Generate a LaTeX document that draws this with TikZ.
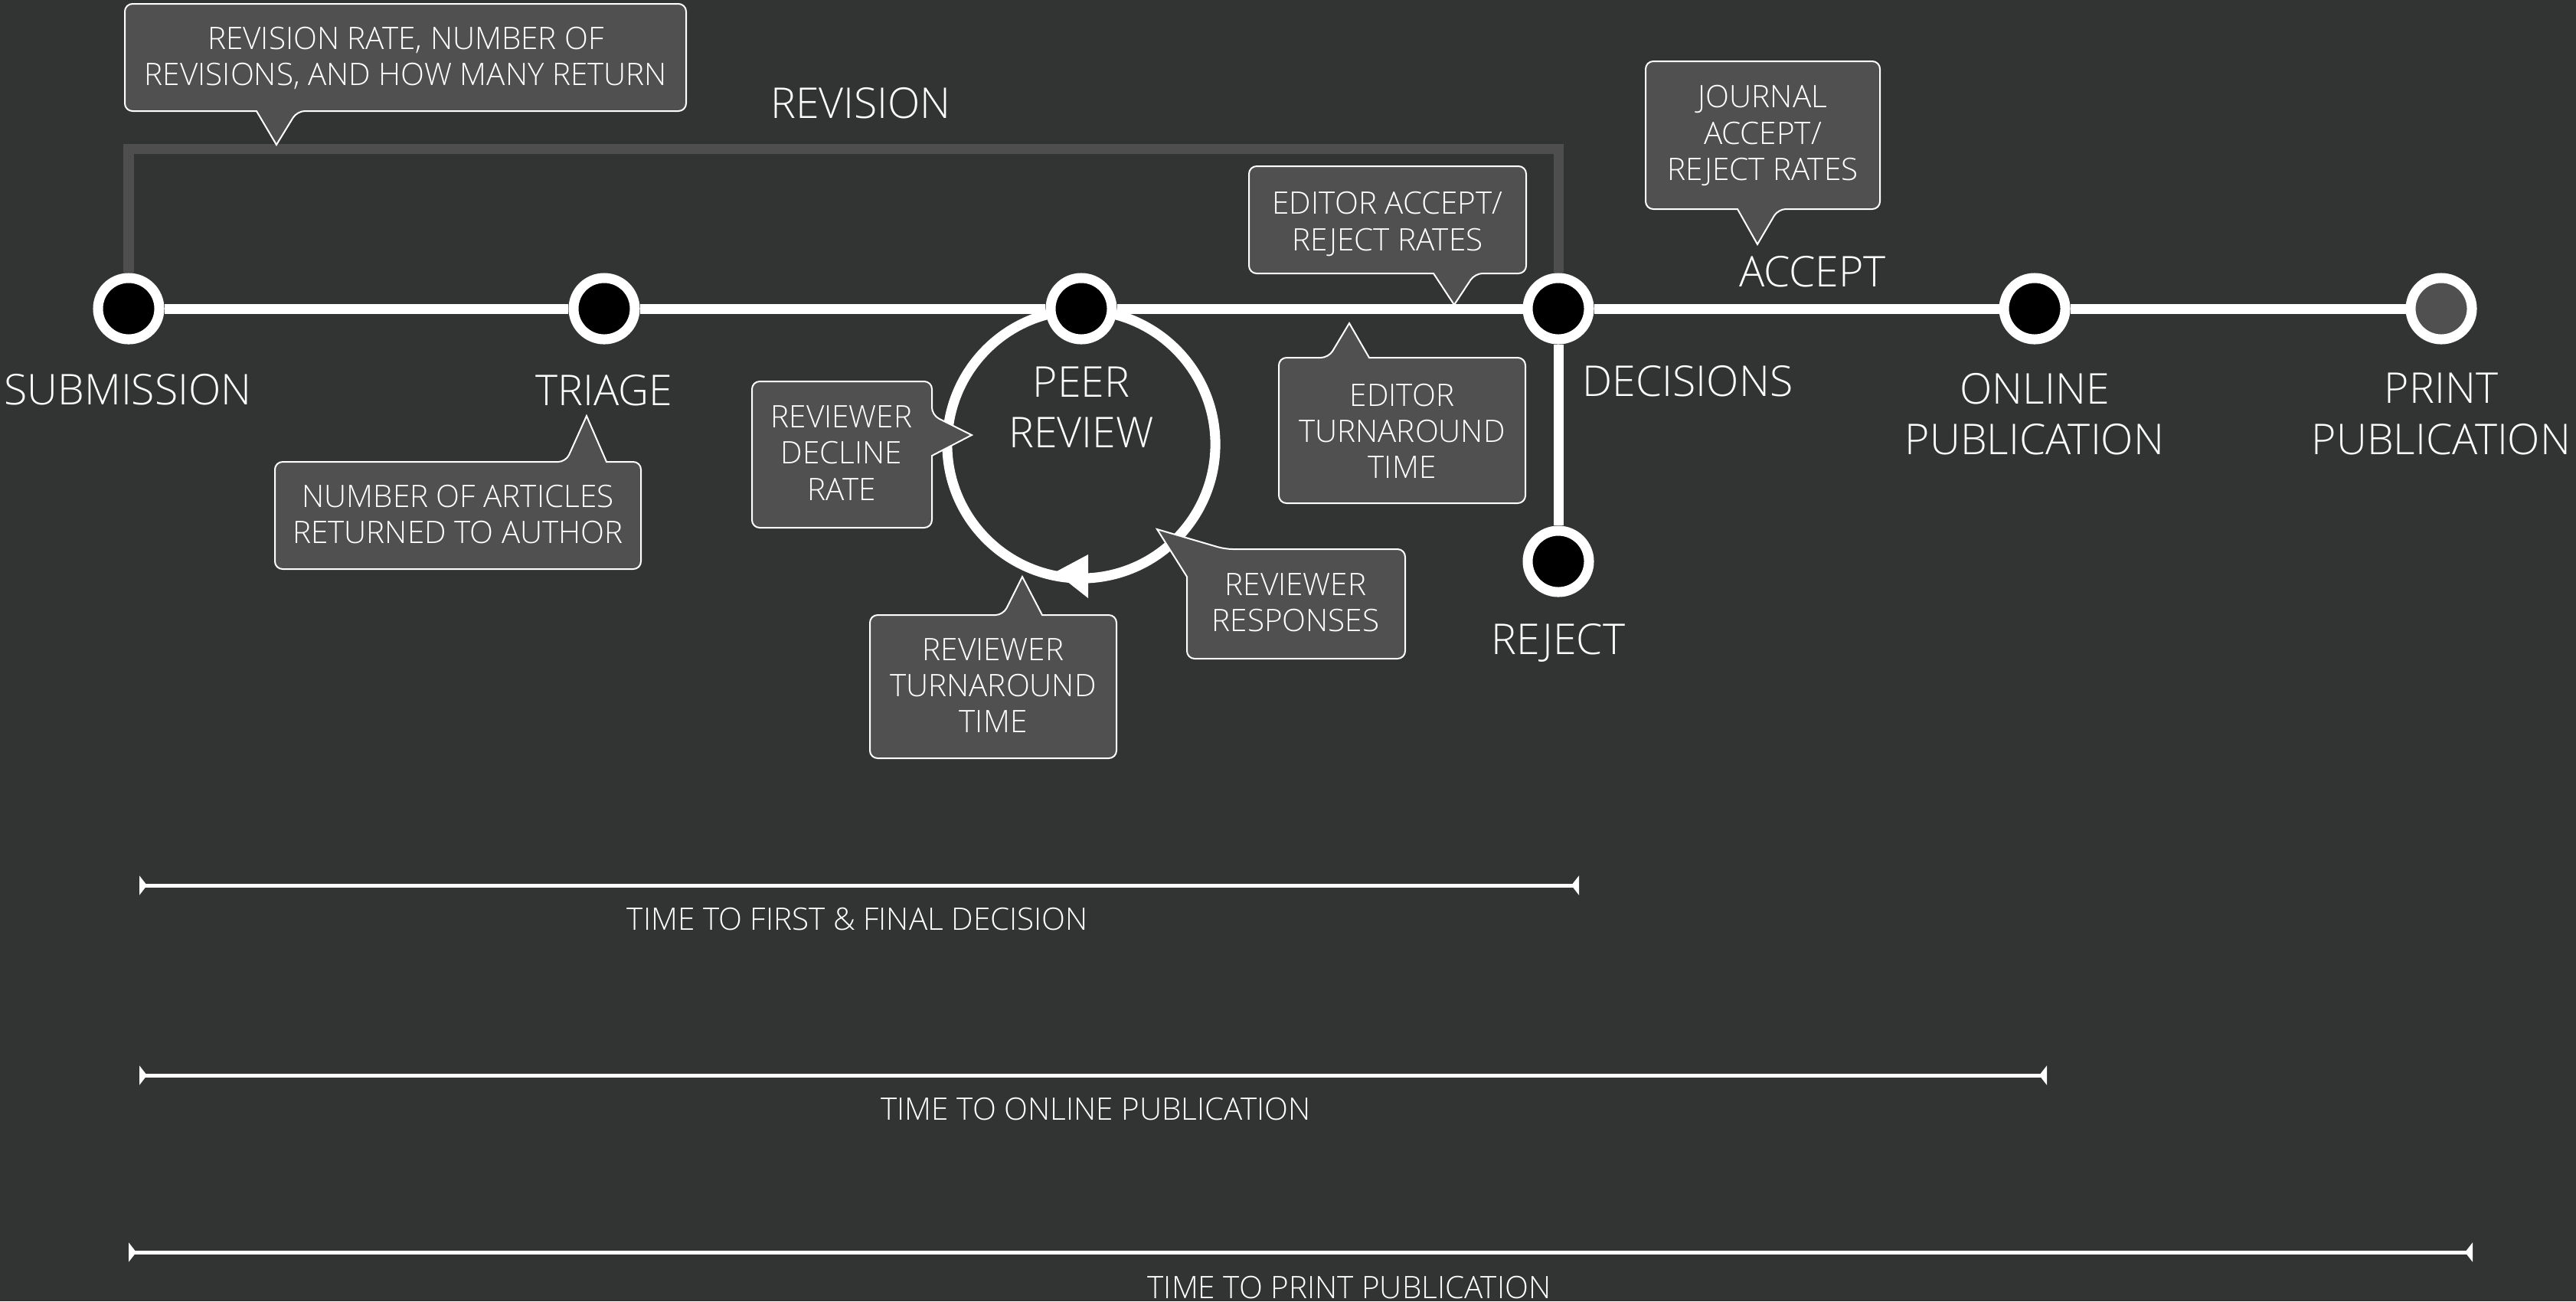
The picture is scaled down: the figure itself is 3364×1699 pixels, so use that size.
\documentclass[tikz,border=0pt]{standalone}
\usepackage{fontspec}
\setmainfont{Open Sans Light}
\usetikzlibrary{arrows.meta}
\definecolor{bgc}{HTML}{323433}
\definecolor{boxc}{HTML}{505050}
\definecolor{brc}{HTML}{4E4E4E}
\tikzset{bartip/.tip={Triangle[reversed,length=0.1cm,width=0.25cm]}}
\begin{document}
\begin{tikzpicture}[x=0.01cm,y=-0.01cm,
  stagenode/.style={circle,draw=white,fill=black,line width=0.13cm,minimum size=0.8cm,inner sep=0pt},
  mainline/.style={draw=white,line width=0.13cm},
  bracketline/.style={draw=brc,line width=0.13cm},
  callout/.style={draw=white,fill=boxc,line width=0.02cm},
  ctext/.style={text=white,align=center,inner sep=0pt,font=\fontsize{11.5pt}{13.4pt}\selectfont},
  mlabel/.style={text=white,align=center,inner sep=0pt,font=\fontsize{15.75pt}{18.8pt}\selectfont},
  barline/.style={draw=white,line width=0.05cm,bartip-bartip},
]
\fill[bgc] (0,0) rectangle (3364,1699);
\useasboundingbox (0,0) rectangle (3364,1699);

% peer review loop
\draw[white,line width=0.13cm] (1412,580) circle[radius=1.75cm];
\fill[white] (1421,724) -- (1421,781) -- (1378,747) -- cycle;

% stage nodes
\node[stagenode] (sub) at (168,403) {};
\node[stagenode] (tri) at (789,403) {};
\node[stagenode] (peer) at (1412,403) {};
\node[stagenode] (dec) at (2035,403) {};
\node[stagenode] (onl) at (2657,403) {};
\node[stagenode,fill=boxc] (prt) at (3188,403) {};
\node[stagenode] (rej) at (2035,733) {};

% revision bracket
\coordinate (revtop) at (1100,194.5);
\draw[bracketline] (sub) |- (revtop) -| (dec);

% main timeline
\draw[mainline] (sub) -- (tri);
\draw[mainline] (tri) -- (peer);
\draw[mainline] (peer) -- (dec);
\draw[mainline] (dec) -- (onl);
\draw[mainline] (onl) -- (prt);
\draw[mainline] (dec) -- (rej);

% stage labels
\node[mlabel] (lsub) at (167,508.5) {SUBMISSION};
\node[mlabel] (ltri) at (789,510) {TRIAGE};
\node[mlabel] (lpeer) at (1412,532) {PEER\\REVIEW};
\node[mlabel,anchor=west] (ldec) at (2066,498) {DECISIONS};
\node[mlabel] (lonl) at (2657,540.5) {ONLINE\\PUBLICATION};
\node[mlabel] (lprt) at (3188,540.5) {PRINT\\PUBLICATION};
\node[mlabel] (lacc) at (2367,355) {ACCEPT};
\node[mlabel] (lrej) at (2035,839) {REJECT};
\node[mlabel] (lrev) at (1124,135) {REVISION};

% callouts
\draw[callout] (361,189) -- (335,145) [rounded corners=0.1cm] -- (163,145) -- (163,5) -- (896,5) -- (896,145) -- (388,145) [sharp corners] -- cycle;
\node[ctext] (c1) at (530,76) {REVISION RATE, NUMBER OF\\REVISIONS, AND HOW MANY RETURN};

\draw[callout] (766,543) -- (792,603) [rounded corners=0.1cm] -- (837,603) -- (837,743) -- (359,743) -- (359,603) -- (739,603) [sharp corners] -- cycle;
\node[ctext] (c2) at (598,671.5) {NUMBER OF ARTICLES\\RETURNED TO AUTHOR};

\draw[callout] (1269,568) -- (1217,595) [rounded corners=0.1cm] -- (1217,689) -- (982,689) -- (982,498) -- (1217,498) -- (1217,542) [sharp corners] -- cycle;
\node[ctext] (c3) at (1099,591.5) {REVIEWER\\DECLINE\\RATE};

\draw[callout] (1335,753) -- (1361,803) [rounded corners=0.1cm] -- (1458,803) -- (1458,990) -- (1136,990) -- (1136,803) -- (1310,803) [sharp corners] -- cycle;
\node[ctext] (c4) at (1297,895) {REVIEWER\\TURNAROUND\\TIME};

\draw[callout] (1511,691) -- (1550,753) [rounded corners=0.1cm] -- (1550,860) -- (1835,860) -- (1835,717) -- (1600,717) [sharp corners] -- cycle;
\node[ctext] (c5) at (1692,786.5) {REVIEWER\\RESPONSES};

\draw[callout] (1899,398) -- (1872,357) [rounded corners=0.1cm] -- (1631,357) -- (1631,217) -- (1993,217) -- (1993,357) -- (1926,357) [sharp corners] -- cycle;
\node[ctext] (c6) at (1812,292.5) {EDITOR ACCEPT/\\REJECT RATES};

\draw[callout] (1762,422) -- (1788,467) [rounded corners=0.1cm] -- (1992,467) -- (1992,657) -- (1670,657) -- (1670,467) -- (1735,467) [sharp corners] -- cycle;
\node[ctext] (c7) at (1831,562.5) {EDITOR\\TURNAROUND\\TIME};

\draw[callout] (2295,319) -- (2269,273) [rounded corners=0.1cm] -- (2149,273) -- (2149,80) -- (2455,80) -- (2455,273) -- (2322,273) [sharp corners] -- cycle;
\node[ctext] (c8) at (2302,177) {JOURNAL\\ACCEPT/\\REJECT RATES};

% time bars
\coordinate (b1s) at (182,1156);
\coordinate (b1e) at (2062,1156);
\coordinate (b2s) at (182,1404);
\coordinate (b2e) at (2673,1404);
\coordinate (b3s) at (168,1635);
\coordinate (b3e) at (3229,1635);
\draw[barline] (b1s) -- (b1e);
\draw[barline] (b2s) -- (b2e);
\draw[barline] (b3s) -- (b3e);
\node[ctext] (t1) at (1120,1200) {TIME TO FIRST \& FINAL DECISION};
\node[ctext] (t2) at (1431,1448) {TIME TO ONLINE PUBLICATION};
\node[ctext] (t3) at (1762,1681) {TIME TO PRINT PUBLICATION};
\end{tikzpicture}
\end{document}
